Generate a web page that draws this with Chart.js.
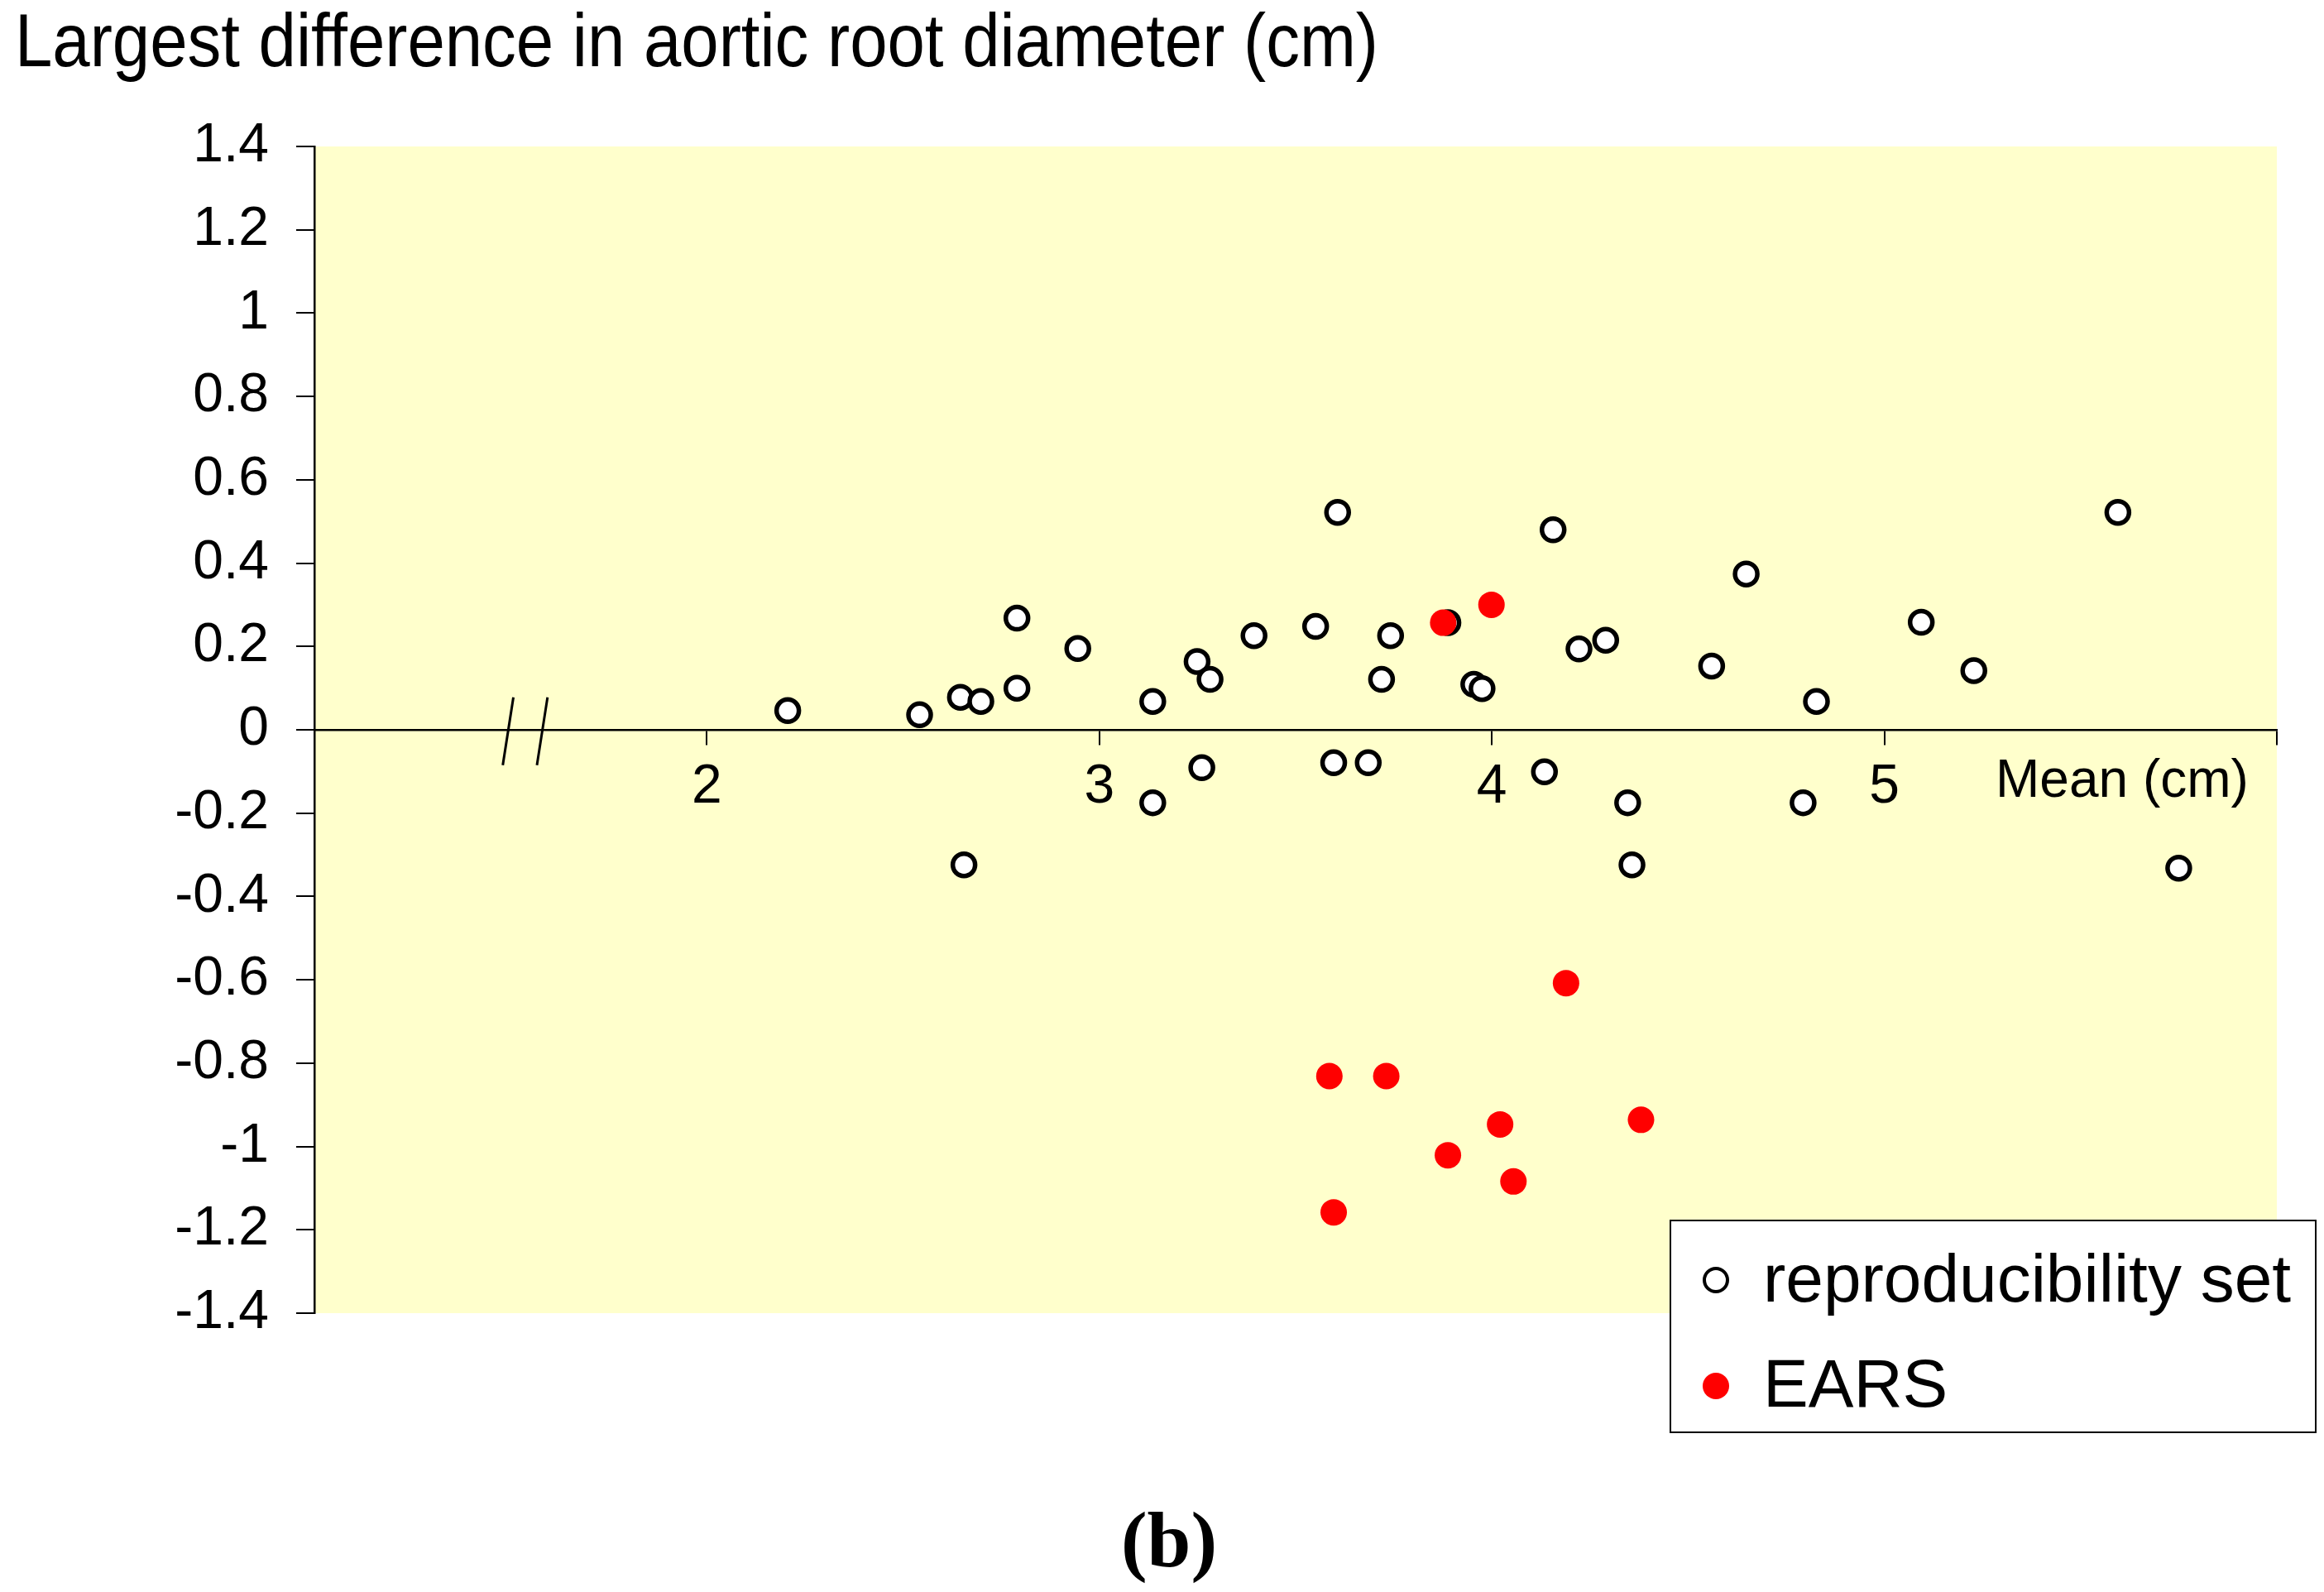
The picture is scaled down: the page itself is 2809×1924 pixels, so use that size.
<!DOCTYPE html>
<html>
<head>
<meta charset="utf-8">
<script src="https://cdn.jsdelivr.net/npm/chart.js@4.4.1/dist/chart.umd.min.js"></script>
<style>
  html, body { margin: 0; padding: 0; background: #ffffff; }
  canvas { display: block; }
</style>
</head>
<body>
<canvas id="AORT" width="2809" height="1924"></canvas>
<script>
// reproducibility set (open circles)
var reproMean = [2.206, 2.542, 2.646, 2.655, 2.698, 2.790, 2.790, 2.945, 3.136, 3.136,
    3.249, 3.261, 3.282, 3.394, 3.551, 3.597, 3.607, 3.685, 3.719, 3.742,
    3.888, 3.954, 3.975, 4.134, 4.156, 4.222, 4.290, 4.346, 4.357, 4.560,
    4.648, 4.793, 4.827, 5.094, 5.228, 5.595, 5.750];
var reproDiff = [0.046, 0.036, 0.078, -0.324, 0.068, 0.100, 0.268, 0.195, 0.068, -0.175,
    0.164, -0.091, 0.121, 0.226, 0.248, -0.079, 0.522, -0.079, 0.121, 0.226,
    0.257, 0.109, 0.099, -0.101, 0.480, 0.194, 0.215, -0.175, -0.324, 0.153,
    0.374, -0.175, 0.068, 0.258, 0.142, 0.522, -0.332];

// EARS (red dots)
var earsMean = [3.876, 3.999, 4.189, 3.586, 3.731, 4.021, 4.380, 3.888, 4.055, 3.597];
var earsDiff = [0.257, 0.300, -0.608, -0.831, -0.831, -0.947, -0.936, -1.021, -1.084, -1.158];

var seriesNames = ["reproducibility set", "EARS"];

var xTickValues = [1, 2, 3, 4, 5, 6];
var xTickLabels = ["", "2", "3", "4", "5", ""];
var yTickValues = [-1.4, -1.2, -1, -0.8, -0.6, -0.4, -0.2, 0, 0.2, 0.4, 0.6, 0.8, 1, 1.2, 1.4];
var yTickLabels = ["-1.4", "-1.2", "-1", "-0.8", "-0.6", "-0.4", "-0.2", "0", "0.2", "0.4", "0.6", "0.8", "1", "1.2", "1.4"];

var yTitle = "Largest difference in aortic root diameter (cm)";
var xTitle = "Mean (cm)";
var caption = "(b)";

var SANS = "'Liberation Sans', Arial, sans-serif";
Chart.defaults.font.family = SANS;
Chart.defaults.color = "#000000";

function toPoints(xs, ys) {
    var out = [];
    for (i = 0; i < xs.length; i++) {
        out.push({ x: xs[i], y: ys[i] });
    }
    return out;
}

// yellow plot area behind everything
var plotBack = {
    id: 'plotBack',
    beforeDraw: function (chart) {
        var c = chart.ctx;
        var a = chart.chartArea;
        c.save();
        c.fillStyle = "#ffffff";
        c.fillRect(0, 0, chart.width, chart.height);
        c.fillStyle = "#ffffcc";
        c.fillRect(a.left, a.top, a.right - a.left, a.bottom - a.top);
        c.restore();
    }
};

// titles, axis break, legend box, caption
var extras = {
    id: 'extras',
    afterDraw: function (chart) {
        var c = chart.ctx;
        var sx = chart.scales.x;
        var sy = chart.scales.y;
        c.save();

        // y title (slightly condensed like the original)
        c.fillStyle = "#000";
        c.textBaseline = "alphabetic";
        c.textAlign = "left";
        c.font = "90px " + SANS;
        var w = c.measureText(yTitle).width;
        c.save();
        c.translate(18, 80);
        c.scale(1648 / w, 1);
        c.fillText(yTitle, 0, 0);
        c.restore();

        // x title, right of the "5"
        c.font = "64px " + SANS;
        c.fillText(xTitle, 2412, 963);

        // axis break marks "//"
        c.strokeStyle = "#000";
        c.lineWidth = 3;
        var brk = [[1.507, 1.480], [1.594, 1.567]];
        for (i = 0; i < brk.length; i++) {
            c.beginPath();
            c.moveTo(sx.getPixelForValue(brk[i][0]), sy.getPixelForValue(0.078));
            c.lineTo(sx.getPixelForValue(brk[i][1]), sy.getPixelForValue(-0.085));
            c.stroke();
        }

        // legend box
        c.fillStyle = "#ffffff";
        c.fillRect(2019, 1475, 780, 256);
        c.lineWidth = 2;
        c.strokeRect(2019, 1475, 780, 256);

        var ds = chart.data.datasets;
        // open marker
        c.beginPath();
        c.arc(2074, 1547, 14, 0, Math.PI * 2);
        c.fillStyle = ds[1].backgroundColor;
        c.fill();
        c.lineWidth = 4;
        c.strokeStyle = ds[1].borderColor;
        c.stroke();
        // red marker
        c.beginPath();
        c.arc(2074, 1675, 16, 0, Math.PI * 2);
        c.fillStyle = ds[0].backgroundColor;
        c.fill();

        c.fillStyle = "#000";
        c.font = "82px " + SANS;
        c.fillText(seriesNames[0], 2131, 1573);
        c.fillText(seriesNames[1], 2131, 1700);

        // caption
        c.font = "bold 95px 'Liberation Serif', 'Times New Roman', serif";
        c.textAlign = "center";
        c.fillText(caption, 1413, 1893);

        c.restore();
    }
};

function chartAort(name) {
    var ctx = document.getElementById(name).getContext('2d');
    var myChart = new Chart(ctx, {
        type: 'scatter',
        data: {
            datasets: [{
                label: seriesNames[1],
                data: toPoints(earsMean, earsDiff),
                backgroundColor: "#ff0000",
                borderColor: "#ff0000",
                borderWidth: 0,
                pointRadius: 16,
                order: 0
            }, {
                label: seriesNames[0],
                data: toPoints(reproMean, reproDiff),
                backgroundColor: "#ffffff",
                borderColor: "#000000",
                borderWidth: 5.5,
                pointRadius: 13.5,
                order: 1
            }]
        },
        options: {
            responsive: false,
            animation: false,
            devicePixelRatio: 1,
            layout: {
                padding: { top: 177, right: 57, bottom: 337, left: 0 }
            },
            plugins: {
                legend: { display: false },
                tooltip: { enabled: false },
                title: { display: false }
            },
            scales: {
                x: {
                    type: 'linear',
                    position: { y: 0 },
                    min: 1,
                    max: 6,
                    afterFit: function (s) { s.height = 0; },
                    afterBuildTicks: function (s) {
                        s.ticks = xTickValues.map(function (v) { return { value: v }; });
                    },
                    ticks: {
                        autoSkip: false,
                        maxRotation: 0,
                        padding: 13,
                        color: "#000",
                        font: { size: 66 },
                        callback: function (v) {
                            var k = xTickValues.indexOf(v);
                            return k > -1 ? xTickLabels[k] : "";
                        }
                    },
                    grid: { drawOnChartArea: false, drawTicks: true, tickLength: 17, color: "#000", lineWidth: 2 },
                    border: { display: true, color: "#000", width: 2.5 }
                },
                y: {
                    type: 'linear',
                    position: 'left',
                    min: -1.4,
                    max: 1.4,
                    afterFit: function (s) { s.width = 380; },
                    afterBuildTicks: function (s) {
                        s.ticks = yTickValues.map(function (v) { return { value: v }; });
                    },
                    ticks: {
                        autoSkip: false,
                        padding: 33,
                        color: "#000",
                        font: { size: 66 },
                        callback: function (v) {
                            var k = yTickValues.findIndex(x => Math.abs(x - v) < 1e-9);
                            return k > -1 ? yTickLabels[k] : "";
                        }
                    },
                    grid: { drawOnChartArea: false, drawTicks: true, tickLength: 22, color: "#000", lineWidth: 2 },
                    border: { display: true, color: "#000", width: 2.5 }
                }
            }
        },
        plugins: [plotBack, extras]
    });
}

chartAort("AORT");
</script>
</body>
</html>
